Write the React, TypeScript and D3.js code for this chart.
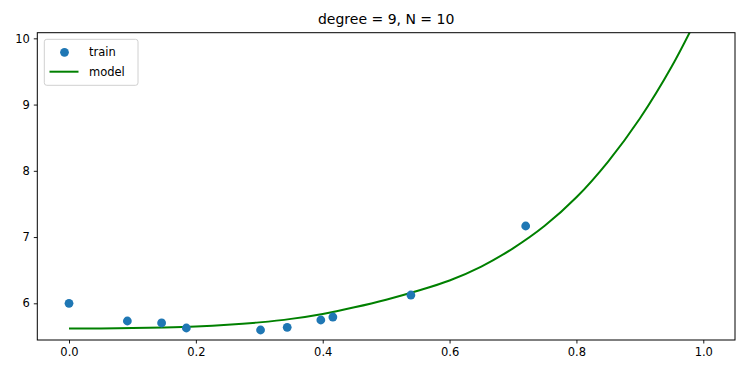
import React, { useEffect, useRef } from "react";
import * as d3 from "d3";

// --- training points ---
const trainX = [0.0, 0.092, 0.146, 0.185, 0.302, 0.344, 0.397, 0.416, 0.539, 0.72];
const trainY = [6.0, 5.733, 5.703, 5.627, 5.597, 5.638, 5.748, 5.793, 6.125, 7.167];

// --- model curve ---
const modelX = [0, 0.05, 0.1, 0.15, 0.2, 0.25, 0.3, 0.35, 0.4, 0.45, 0.5, 0.55, 0.6, 0.65, 0.7, 0.75, 0.8, 0.85, 0.9, 0.95, 1.0];
const modelY = [5.62, 5.621, 5.626, 5.635, 5.65, 5.675, 5.712, 5.765, 5.84, 5.94, 6.055, 6.19, 6.345, 6.555, 6.83, 7.17, 7.6, 8.14, 8.79, 9.57, 10.5];

const xTicks = [0, 0.2, 0.4, 0.6, 0.8, 1.0];
const yTicks = [6, 7, 8, 9, 10];
const title = "degree = 9, N = 10";

export default function App() {
  const svgRef = useRef<SVGSVGElement>(null);
  const width = 744;
  const height = 374;

  useEffect(() => {
    const svg = d3.select(svgRef.current);
    svg.selectAll("*").remove();

    const left = 37.3, right = 735, top = 32.7, bottom = 340;
    const font = "DejaVu Sans, sans-serif";

    const x = d3.scaleLinear().domain([-0.05, 1.05]).range([left, right]);
    const y = d3.scaleLinear().domain([5.446, 10.085]).range([bottom, top]);

    svg.append("clipPath").attr("id", "plot-clip")
      .append("rect")
      .attr("x", left).attr("y", top)
      .attr("width", right - left).attr("height", bottom - top);

    // --- model line ---
    const line = d3.line<number>()
      .x((_, i) => x(modelX[i]))
      .y(d => y(d))
      .curve(d3.curveCatmullRom.alpha(0.5));

    svg.append("path")
      .datum(modelY)
      .attr("clip-path", "url(#plot-clip)")
      .attr("fill", "none")
      .attr("stroke", "green")
      .attr("stroke-width", 2)
      .attr("d", line);

    // --- train points ---
    svg.append("g")
      .attr("clip-path", "url(#plot-clip)")
      .selectAll("circle")
      .data(trainY)
      .join("circle")
      .attr("cx", (_, i) => x(trainX[i]))
      .attr("cy", d => y(d))
      .attr("r", 4.4)
      .attr("fill", "#1f77b4");

    // --- axes ---
    const xAxis = svg.append("g")
      .attr("transform", `translate(0,${bottom})`)
      .call(d3.axisBottom(x).tickValues(xTicks).tickFormat(d3.format(".1f")).tickSize(3.5).tickPadding(4));
    const yAxis = svg.append("g")
      .attr("transform", `translate(${left},0)`)
      .call(d3.axisLeft(y).tickValues(yTicks).tickFormat(d3.format("d")).tickSize(3.5).tickPadding(4));

    [xAxis, yAxis].forEach(a => {
      a.select(".domain").remove();
      a.selectAll("line").attr("stroke", "#000").attr("stroke-width", 0.9);
      a.selectAll("text")
        .attr("fill", "#000")
        .style("font-family", font)
        .style("font-size", "11.5px");
    });

    // spines
    svg.append("rect")
      .attr("x", left).attr("y", top)
      .attr("width", right - left).attr("height", bottom - top)
      .attr("fill", "none")
      .attr("stroke", "#000")
      .attr("stroke-width", 1);

    // --- title ---
    svg.append("text")
      .attr("x", (left + right) / 2)
      .attr("y", 24)
      .attr("text-anchor", "middle")
      .style("font-family", font)
      .style("font-size", "14px")
      .attr("fill", "#000")
      .text(title);

    // --- legend ---
    const lg = svg.append("g");
    lg.append("rect")
      .attr("x", 44.3).attr("y", 39.3)
      .attr("width", 93.7).attr("height", 46)
      .attr("rx", 2.5)
      .attr("fill", "#fff")
      .attr("fill-opacity", 0.8)
      .attr("stroke", "#d0d0d0")
      .attr("stroke-width", 1);
    lg.append("circle")
      .attr("cx", 64.5).attr("cy", 52.3)
      .attr("r", 4.4)
      .attr("fill", "#1f77b4");
    lg.append("line")
      .attr("x1", 49.5).attr("x2", 78.5)
      .attr("y1", 71.7).attr("y2", 71.7)
      .attr("stroke", "green")
      .attr("stroke-width", 2);
    [["train", 56.3], ["model", 76.3]].forEach(([t, yy]) => {
      lg.append("text")
        .attr("x", 89)
        .attr("y", yy as number)
        .style("font-family", font)
        .style("font-size", "11.5px")
        .attr("fill", "#000")
        .text(t as string);
    });
  }, []);

  return (
    <svg
      ref={svgRef}
      width={width}
      height={height}
      style={{ position: "absolute", left: 0, top: 0, background: "#fff" }}
    />
  );
}
